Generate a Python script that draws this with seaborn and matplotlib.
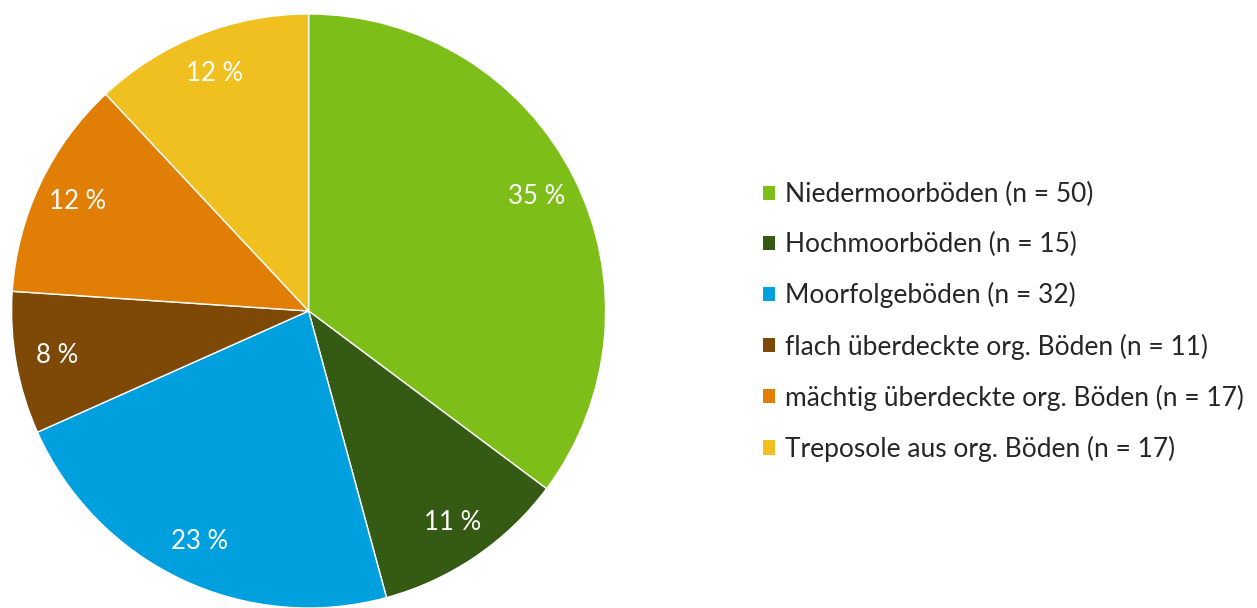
import matplotlib
matplotlib.use("Agg")
import matplotlib.pyplot as plt
import seaborn as sns
from matplotlib.patches import Patch

categories = [
    "Niedermoorböden",
    "Hochmoorböden",
    "Moorfolgeböden",
    "flach überdeckte org. Böden",
    "mächtig überdeckte org. Böden",
    "Treposole aus org. Böden",
]
counts = [50, 15, 32, 11, 17, 17]
colors = ["#7DBE18", "#345A14", "#00A0DE", "#7E4807", "#E07E06", "#EFC020"]

sns.set_theme(style="white")
plt.rcParams["font.family"] = ["Lato", "DejaVu Sans"]

fig = plt.figure(figsize=(12.57, 6.08), dpi=100)
ax = fig.add_axes([0.008, 0.0, 0.475, 0.977])

wedges, texts, autotexts = ax.pie(
    counts,
    colors=colors,
    startangle=90,
    counterclock=False,
    autopct=lambda p: f"{p:.0f} %",
    pctdistance=0.86,
    wedgeprops=dict(edgecolor="white", linewidth=1),
    textprops=dict(color="white", fontsize=18.5),
    radius=1.0,
)
ax.set_xlim(-1.0, 1.0)
ax.set_ylim(-1.0, 1.0)
ax.set_aspect("equal")
ax.axis("off")

labels = [f"{c} (n = {n})" for c, n in zip(categories, counts)]
handles = [Patch(facecolor=c, edgecolor="none") for c in colors]
fig.legend(
    handles, labels,
    loc="center left",
    bbox_to_anchor=(763 / 1257, 1 - 322 / 608),
    frameon=False,
    fontsize=19,
    handlelength=0.45,
    handleheight=0.45,
    handletextpad=0.4,
    labelspacing=0.95,
    borderpad=0,
    borderaxespad=0,
)

fig.savefig("out.png", dpi=100, facecolor="white")
